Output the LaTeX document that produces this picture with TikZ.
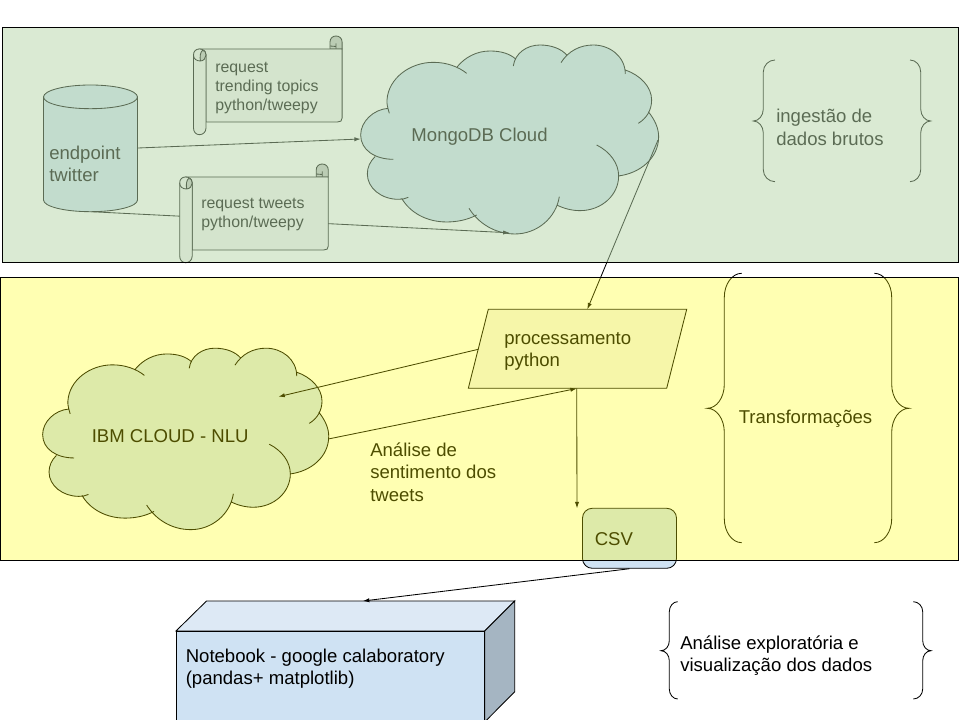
\documentclass[tikz,border=0pt]{standalone}
\usepackage{fontspec}
\setmainfont{Liberation Sans}
\usepackage{xcolor}
\usetikzlibrary{arrows.meta}
\definecolor{boxblue}{HTML}{CFE2F3}
\definecolor{boxtop}{HTML}{DDE9F5}
\definecolor{boxside}{HTML}{A5B5C2}
\definecolor{boxgray}{HTML}{F3F3F3}
\definecolor{curlgray}{HTML}{C2C2C2}
\definecolor{panelgreen}{HTML}{B6D7A8}
\definecolor{panelyellow}{RGB}{255,255,0}
\tikzset{
  shapeline/.style={draw=black,line width=0.6pt},
  connector/.style={draw=black,line width=0.6pt,-{Latex[length=4.5pt,width=3pt]}},
  plainline/.style={draw=black,line width=0.6pt},
  bigtext/.style={font=\fontsize{13.2}{15.9}\selectfont,align=left,anchor=west,inner sep=0pt},
  smalltext/.style={font=\fontsize{11.3}{13.4}\selectfont,align=left,anchor=west,inner sep=0pt},
  greenpanel/.style={draw=black,line width=0.7pt,fill=panelgreen,fill opacity=0.5},
  yellowpanel/.style={draw=black,line width=0.7pt,fill=panelyellow,fill opacity=0.3}
}
\newcommand{\cloudpath}[2]{%
  \path[#1] (130,328) .. controls (75,328) and (32,300) .. (32,255) .. controls (32,215) and (70,178) .. (115,175)
  #2 (118,190) .. controls (112,170) and (110,160) .. (111,150) .. controls (115,85) and (180,37) .. (250,37) .. controls (290,37) and (325,50) .. (350,70)
  #2 (322,50) .. controls (345,22) and (380,3) .. (420,3) .. controls (455,3) and (480,12) .. (497,27)
  #2 (490,48) .. controls (495,10) and (530,-15) .. (570,-15) .. controls (605,-15) and (635,-3) .. (650,15)
  #2 (633,38) .. controls (655,3) and (690,-15) .. (730,-15) .. controls (780,-15) and (826,20) .. (826,72)
  #2 (826,60) .. controls (870,75) and (905,110) .. (905,150) .. controls (905,180) and (890,205) .. (865,220)
  #2 (895,185) .. controls (915,210) and (926,235) .. (926,260) .. controls (926,325) and (870,370) .. (805,378)
  #2 (740,285) .. controls (780,305) and (806,340) .. (806,378) .. controls (806,435) and (755,482) .. (690,482) .. controls (665,482) and (640,475) .. (620,465)
  #2 (628,440) .. controls (618,505) and (560,552) .. (495,552) .. controls (435,552) and (385,520) .. (357,475)
  #2 (380,495) .. controls (352,510) and (320,516) .. (290,516) .. controls (230,516) and (180,488) .. (155,445)
  #2 (175,442) .. controls (165,447) and (155,448) .. (145,448) .. controls (95,448) and (52,415) .. (52,372) .. controls (52,352) and (60,335) .. (75,320);
}
\newcommand{\scrollshape}[2]{%
  \begin{scope}[shift={(#1,#2)}]
    \path[shapeline,fill=curlgray] (136.5,13)--(136.5,6) .. controls (136.5,2.5) and (139,0) .. (142.5,0) .. controls (146,0) and (148.6,2.5) .. (148.6,6)--(148.6,13)--cycle;
    \draw[shapeline] (136.5,10)--(142.5,10.5) (142.5,7.5)--(142.5,13);
    \path[shapeline,fill=boxgray] (6,13)--(148.6,13)--(148.6,82) .. controls (148.6,85) and (147,86) .. (144,86)--(12.5,86)--(12.5,19)--cycle;
    \path[shapeline,fill=boxgray] (0,19) .. controls (0,15) and (2.5,13) .. (6,13) .. controls (9.5,13) and (12.5,15) .. (12.5,19)--(12.5,92) .. controls (12.5,96) and (9.5,98.7) .. (6,98.7) .. controls (2.5,98.7) and (0,96) .. (0,92)--cycle;
    \path[shapeline,fill=curlgray] (7,25) .. controls (10,25) and (12.5,22) .. (12.5,19) .. controls (12.5,16) and (11,14) .. (9,14.5) .. controls (7,15.5) and (6,21) .. (7,25);
    \draw[shapeline] (0,19) .. controls (0,23) and (3,25) .. (7,25);
  \end{scope}
}
% tip, stem, end, top, middle, bottom, corner
\newcommand{\curlybrace}[7]{%
  \draw[plainline] (#3,#4) .. controls ({#2+0.45*(#3-#2)},#4) and (#2,{#4+0.45*#7}) .. (#2,{#4+#7})--(#2,{#5-#7}) .. controls (#2,{#5-0.45*#7}) and ({#2+0.45*(#1-#2)},#5) .. (#1,#5) .. controls ({#2+0.45*(#1-#2)},#5) and (#2,{#5+0.45*#7}) .. (#2,{#5+#7})--(#2,{#6-#7}) .. controls (#2,{#6-0.45*#7}) and ({#2+0.45*(#3-#2)},#6) .. (#3,#6);
}
\begin{document}
\begin{tikzpicture}[x=0.025cm, y=-0.025cm]
\useasboundingbox (0,0) rectangle (960,720);
\fill[white] (0,0) rectangle (960,720);
% connector ends
\coordinate (cylSide) at (138,148);
\coordinate (cylBase) at (91,211.7);
\coordinate (mongoLeft) at (360.7,139);
\coordinate (mongoBase) at (509.5,232.8);
\coordinate (mongoRight) at (658,140);
\coordinate (procTop) at (587.3,309.3);
\coordinate (procLeft) at (478.3,349.3);
\coordinate (procBase) at (576.7,388.5);
\coordinate (ibmIn) at (278.5,396.7);
\coordinate (ibmOut) at (328.3,439);
\coordinate (csvIn) at (577,508.3);
\coordinate (boxTopIn) at (363,601);
% mongo cloud
\begin{scope}[shift={(350,50)},scale=0.3333,fill=boxblue,draw=black,line width=0.6pt]
\cloudpath{fill}{--}
\cloudpath{draw}{}
\end{scope}
\draw[connector] (cylBase)--(mongoBase);
\draw[connector] (cylSide)--(mongoLeft);
% scrolls
\scrollshape{193.5}{36}
\scrollshape{179.7}{164}
% cylinder
\path[shapeline,fill=boxblue] (43.5,97) .. controls (43.5,90.5) and (64.5,85) .. (90.5,85) .. controls (116.5,85) and (137.5,90.5) .. (137.5,97)--(137.5,200) .. controls (137.5,206.5) and (116.5,211.7) .. (90.5,211.7) .. controls (64.5,211.7) and (43.5,206.5) .. (43.5,200)--cycle;
\draw[shapeline] (43.5,97) .. controls (43.5,103.5) and (64.5,108.7) .. (90.5,108.7) .. controls (116.5,108.7) and (137.5,103.5) .. (137.5,97);
% ibm cloud
\begin{scope}[shift={(32.4,353)},scale=0.32,fill=boxblue,draw=black,line width=0.6pt]
\cloudpath{fill}{--}
\cloudpath{draw}{}
\end{scope}
% proc shape
\path[shapeline,fill=boxgray] (488.3,309.3)--(686.7,309.3)--(666.7,388.3)--(468.3,388.3)--cycle;
\draw[connector] (mongoRight)--(procTop);
\draw[connector] (procLeft)--(ibmIn);
\draw[connector] (ibmOut)--(procBase);
\draw[connector] (procBase)--(csvIn);
% csv
\node[draw=black,line width=0.6pt,fill=boxblue,rounded corners=7pt,minimum width=2.35cm,minimum height=1.5cm,inner sep=0pt] (csvbox) at (629.5,538.3) {};
% notebook
\path[shapeline,fill=boxtop] (176,631)--(206.5,601)--(514.7,601)--(484.7,631)--cycle;
\path[shapeline,fill=boxside] (484.7,631)--(514.7,601)--(514.7,691.7)--(484.7,722)--cycle;
\path[shapeline,fill=boxblue] (176,631) rectangle (484.7,725);
\draw[connector] (csvbox.south)--(boxTopIn);
% braces
\curlybrace{753.3}{763.3}{775}{60}{121}{181.7}{12}
\curlybrace{930.7}{920.7}{910}{60}{121}{181.7}{12}
\curlybrace{707.3}{724.3}{741.7}{273.3}{408.3}{542.7}{24}
\curlybrace{909}{891.7}{874.3}{273.3}{408.3}{542.7}{24}
\curlybrace{661}{669.3}{677.7}{601.7}{650.7}{699}{10}
\curlybrace{931}{922.7}{913.3}{601.7}{650.7}{699}{10}
% labels
\node[bigtext] (endpointlabel) at (49,163.7) {endpoint\\twitter};
\node[smalltext] (trendinglabel) at (215,88) {request\\trending topics\\python/tweepy};
\node[smalltext] (tweetslabel) at (201,214.5) {request tweets\\python/tweepy};
\node[bigtext] (mongolabel) at (411.2,137) {MongoDB Cloud};
\node[bigtext] (ingestlabel) at (776,127.5) {ingestão de\\dados brutos};
\node[bigtext] (proclabel) at (504,351.5) {processamento\\python};
\node[bigtext] (ibmlabel) at (91.5,436) {IBM CLOUD - NLU};
\node[bigtext] (sentimentlabel) at (370,472) {Análise de\\sentimento dos\\tweets};
\node[bigtext] (translabel) at (738.5,419) {Transformações};
\node[bigtext] (csvlabel) at (594.5,539.5) {CSV};
\node[bigtext] (notebooklabel) at (185.5,668.5) {Notebook - google calaboratory\\(pandas+ matplotlib)};
\node[bigtext] (explorelabel) at (680,655.5) {Análise exploratória e\\visualização dos dados};
% panels
\path[greenpanel] (2,27) rectangle (958,262);
\path[yellowpanel] (0.5,277) rectangle (958,560);
\end{tikzpicture}
\end{document}
